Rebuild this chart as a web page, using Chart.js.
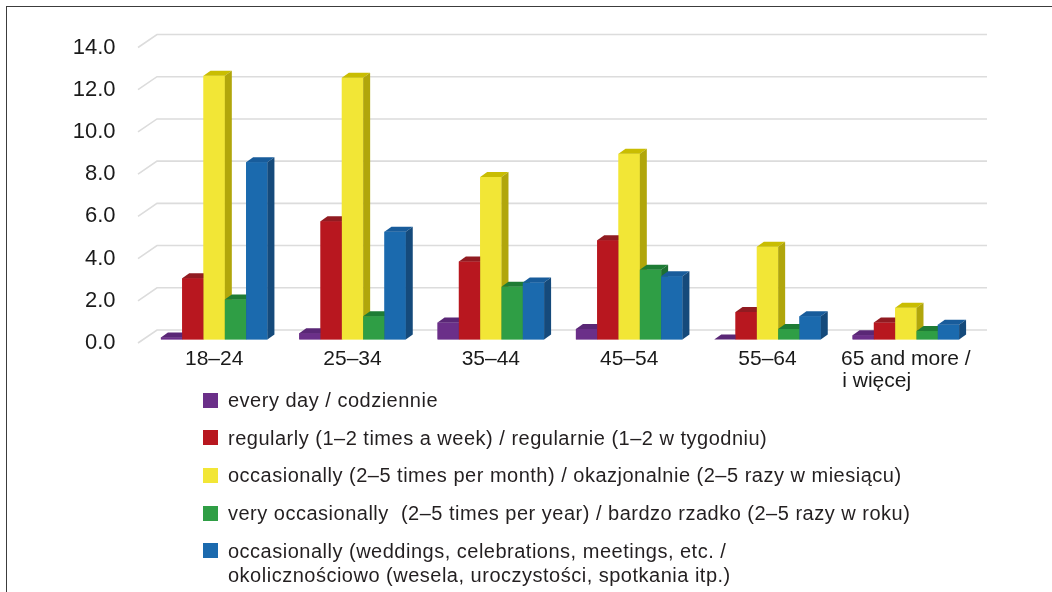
<!DOCTYPE html>
<html>
<head>
<meta charset="utf-8">
<title>Frequency by age group</title>
<script src="https://cdn.jsdelivr.net/npm/chart.js@4.4.1/dist/chart.umd.min.js"></script>
<style>
  html, body { margin: 0; padding: 0; background: #fff; }
  .wrap { position: relative; width: 1052px; height: 592px; overflow: hidden; }
  .frame {
    position: absolute; left: 6px; top: 6px; right: -4px; bottom: -4px;
    border-left: 1.5px solid #3c3c3c; border-top: 1.5px solid #3c3c3c;
  }
  canvas { position: absolute; left: 0; top: 0; }
  #legend {
    position: absolute; left: 203px; top: 388px; margin: 0; padding: 0;
    list-style: none; font: 20px "Liberation Sans", Arial, sans-serif;
    color: #231f20; letter-spacing: 0.5px;
  }
  #legend li { display: flex; align-items: flex-start; line-height: 24px; margin-bottom: 13.7px; white-space: pre; }
  #legend .box { flex: none; width: 15px; height: 15px; margin: 4.5px 10px 0 0; }
</style>
</head>
<body>
<div class="wrap">
  <div class="frame"></div>
  <canvas id="barChart" width="1052" height="592"></canvas>
  <ul id="legend"></ul>
</div>
<script>
// Age groups and values (%)
const categories = ["18–24", "25–34", "35–44", "45–54", "55–64", ["65 and more /", "i więcej\u00a0\u00a0\u00a0\u00a0\u00a0\u00a0\u00a0\u00a0\u00a0\u00a0"]];
const everyDay   = [0.1, 0.3, 0.8, 0.5, 0.0, 0.2];
const regularly  = [2.9, 5.6, 3.7, 4.7, 1.3, 0.8];
const monthly    = [12.5, 12.4, 7.7, 8.8, 4.4, 1.5];
const yearly     = [1.9, 1.1, 2.5, 3.3, 0.5, 0.4];
const occasions  = [8.4, 5.1, 2.7, 3.0, 1.1, 0.7];

const seriesLabels = [
  "every day / codziennie",
  "regularly (1–2 times a week) / regularnie (1–2 w tygodniu)",
  "occasionally (2–5 times per month) / okazjonalnie (2–5 razy w miesiącu)",
  "very occasionally  (2–5 times per year) / bardzo rzadko (2–5 razy w roku)",
  "occasionally (weddings, celebrations, meetings, etc. /\nokolicznościowo (wesela, uroczystości, spotkania itp.)"
];
const yTicks = { min: 0, max: 14, step: 2 };

// front / top / side shades for each series
const shades = [
  ["#6b2f89", "#5a2776", "#4a1f62"],
  ["#b8171f", "#911b21", "#7e161b"],
  ["#f2e636", "#c9bd02", "#b1a60b"],
  ["#2f9e45", "#1e7c35", "#1d6f31"],
  ["#1b6aae", "#185c9b", "#154a7b"]
];

const gridColor = "#dcdcdc";
const barDepth = { x: 7, y: -5 };
const wallShift = { x: 12, y: -9.5 };   // back wall relative to the bar plane
const floorShift = { x: -7, y: 3.5 };   // front edge relative to the bar plane

// Pseudo-3D: gridlines on the back wall and top/side faces on every bar
const depthPlugin = {
  id: "depth",
  beforeDatasetsDraw(chart) {
    const { ctx, chartArea, scales } = chart;
    ctx.save();
    ctx.strokeStyle = gridColor;
    ctx.lineWidth = 1.6;
    scales.y.ticks.forEach(t => {
      const py = scales.y.getPixelForValue(t.value);
      ctx.beginPath();
      ctx.moveTo(chartArea.left + floorShift.x, py + floorShift.y);
      ctx.lineTo(chartArea.left + wallShift.x, py + wallShift.y);
      ctx.lineTo(chartArea.right + wallShift.x, py + wallShift.y);
      ctx.stroke();
    });
    ctx.restore();
  },
  // bars are painted again left to right so each front face hides the side face before it
  afterDatasetsDraw(chart) {
    const ctx = chart.ctx;
    ctx.save();
    chart.data.datasets.forEach((ds, i) => {
      const shade = shades[i];
      chart.getDatasetMeta(i).data.forEach(bar => {
        bar.draw(ctx);
        const { x, y, base, width } = bar.getProps(["x", "y", "base", "width"], true);
        const l = x - width / 2, r = x + width / 2;
        ctx.fillStyle = shade[1];
        ctx.beginPath();
        ctx.moveTo(l, y);
        ctx.lineTo(r, y);
        ctx.lineTo(r + barDepth.x, y + barDepth.y);
        ctx.lineTo(l + barDepth.x, y + barDepth.y);
        ctx.closePath();
        ctx.fill();
        ctx.fillStyle = shade[2];
        ctx.beginPath();
        ctx.moveTo(r, y);
        ctx.lineTo(r + barDepth.x, y + barDepth.y);
        ctx.lineTo(r + barDepth.x, base + barDepth.y);
        ctx.lineTo(r, base);
        ctx.closePath();
        ctx.fill();
      });
    });
    ctx.restore();
  }
};

Chart.defaults.font.family = '"Liberation Sans", Arial, sans-serif';
Chart.defaults.color = "#1a1a1a";

const series = [everyDay, regularly, monthly, yearly, occasions];

const chart = new Chart(document.getElementById("barChart"), {
  type: "bar",
  data: {
    labels: categories,
    datasets: series.map((values, i) => ({
      label: seriesLabels[i],
      data: values,
      backgroundColor: shades[i][0],
      borderWidth: 0,
      categoryPercentage: 0.77,
      barPercentage: 1.0
    }))
  },
  options: {
    responsive: false,
    animation: false,
    events: [],
    layout: { padding: { left: 0, top: 44, right: 77, bottom: 192.5 } },
    plugins: { legend: { display: false }, tooltip: { enabled: false } },
    scales: {
      x: {
        grid: { display: false, drawTicks: false },
        border: { display: false },
        ticks: { font: { size: 21, lineHeight: 1.05 }, padding: 9, maxRotation: 0, autoSkip: false },
        afterFit: s => { s.height = 60; }
      },
      y: {
        min: yTicks.min,
        max: yTicks.max,
        grid: { display: false, drawTicks: false },
        border: { display: false },
        ticks: {
          stepSize: yTicks.step,
          font: { size: 22 },
          padding: 29.5,
          labelOffset: 3.5,
          callback: v => v.toFixed(1)
        },
        afterFit: s => { s.width = 145; }
      }
    }
  },
  plugins: [depthPlugin]
});

// Legend built from the datasets
const legend = document.getElementById("legend");
chart.data.datasets.forEach(ds => {
  const li = document.createElement("li");
  li.innerHTML = `<span class="box" style="background:${ds.backgroundColor}"></span><span></span>`;
  li.lastChild.textContent = ds.label;
  legend.appendChild(li);
});
</script>
</body>
</html>
